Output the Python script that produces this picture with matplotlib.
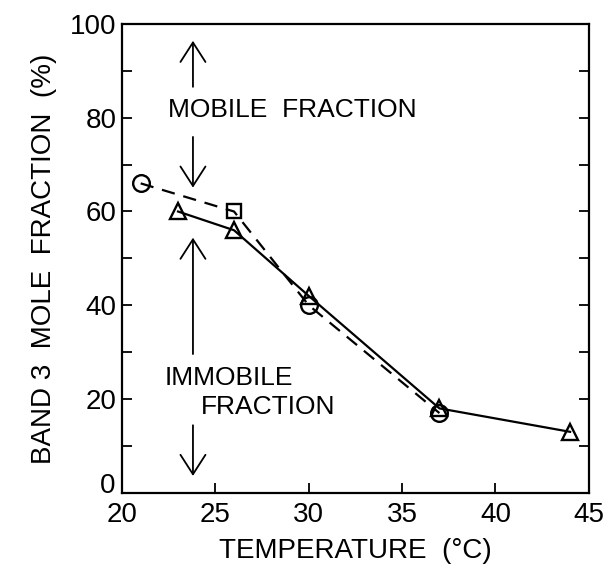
import matplotlib
matplotlib.use("Agg")
import matplotlib.pyplot as plt
from matplotlib.ticker import MultipleLocator, FuncFormatter

# dashed series: circles + one square (at 26 C)
temp_dash = [21, 26, 30, 37]
frac_dash = [66, 60, 40, 17]
circ_t = [21, 30, 37]
circ_f = [66, 40, 17]
sq_t = [26]
sq_f = [60]

# solid series: triangles
temp_solid = [23, 26, 30, 37, 44]
frac_solid = [60, 56, 42, 18, 13]

plt.rcParams.update({"font.family": "Liberation Sans", "font.size": 20})

fig = plt.figure(figsize=(6.07, 5.71), dpi=100)
ax = fig.add_axes([0.201, 0.137, 0.769, 0.821])

ax.plot(temp_dash, frac_dash, "k--", lw=1.6, dashes=(6, 4), zorder=2)
ax.plot(temp_solid, frac_solid, "k-", lw=1.6, zorder=2)
ax.plot(circ_t, circ_f, "o", ms=12, mfc="none", mec="k", mew=1.7, zorder=3)
ax.plot(sq_t, sq_f, "s", ms=10, mfc="none", mec="k", mew=1.7, zorder=3)
ax.plot(temp_solid, frac_solid, "^", ms=12, mfc="none", mec="k", mew=1.7, zorder=3)

# mobile / immobile arrows
arr = dict(arrowstyle="->,head_length=0.7,head_width=0.45", lw=1.3, color="k")
ax.annotate("", xy=(23.8, 97), xytext=(23.8, 86), arrowprops=arr)
ax.annotate("", xy=(23.8, 64.5), xytext=(23.8, 76.5), arrowprops=arr)
ax.annotate("", xy=(23.8, 55), xytext=(23.8, 29), arrowprops=arr)
ax.annotate("", xy=(23.8, 3), xytext=(23.8, 15), arrowprops=arr)
ax.text(29.1, 81.7, "MOBILE  FRACTION", ha="center", va="center", fontsize=19)
ax.text(25.7, 24.5, "IMMOBILE", ha="center", va="center", fontsize=19)
ax.text(27.8, 18.3, "FRACTION", ha="center", va="center", fontsize=19)

ax.set_xlim(20, 45)
ax.set_ylim(0, 100)
ax.xaxis.set_major_locator(MultipleLocator(5))
ax.yaxis.set_major_locator(MultipleLocator(20))
ax.yaxis.set_minor_locator(MultipleLocator(10))
# the y "0" is drawn by hand a little higher, clear of the x "20"
ax.yaxis.set_major_formatter(FuncFormatter(lambda v, _: "" if v == 0 else f"{v:g}"))
ax.text(-0.014, 0.014, "0", transform=ax.transAxes, ha="right", va="center", fontsize=20)
ax.tick_params(direction="in", length=7, width=1.3, right=True, top=False, pad=4)
ax.tick_params(axis="x", pad=7)
ax.tick_params(which="minor", direction="in", length=7, width=1.3, right=True)
for s in ax.spines.values():
    s.set_linewidth(1.6)

ax.set_xlabel("TEMPERATURE  (°C)", fontsize=20, labelpad=7)
ax.set_ylabel("BAND 3  MOLE  FRACTION  (%)", fontsize=20, labelpad=9)

fig.savefig("out.png", dpi=100)
